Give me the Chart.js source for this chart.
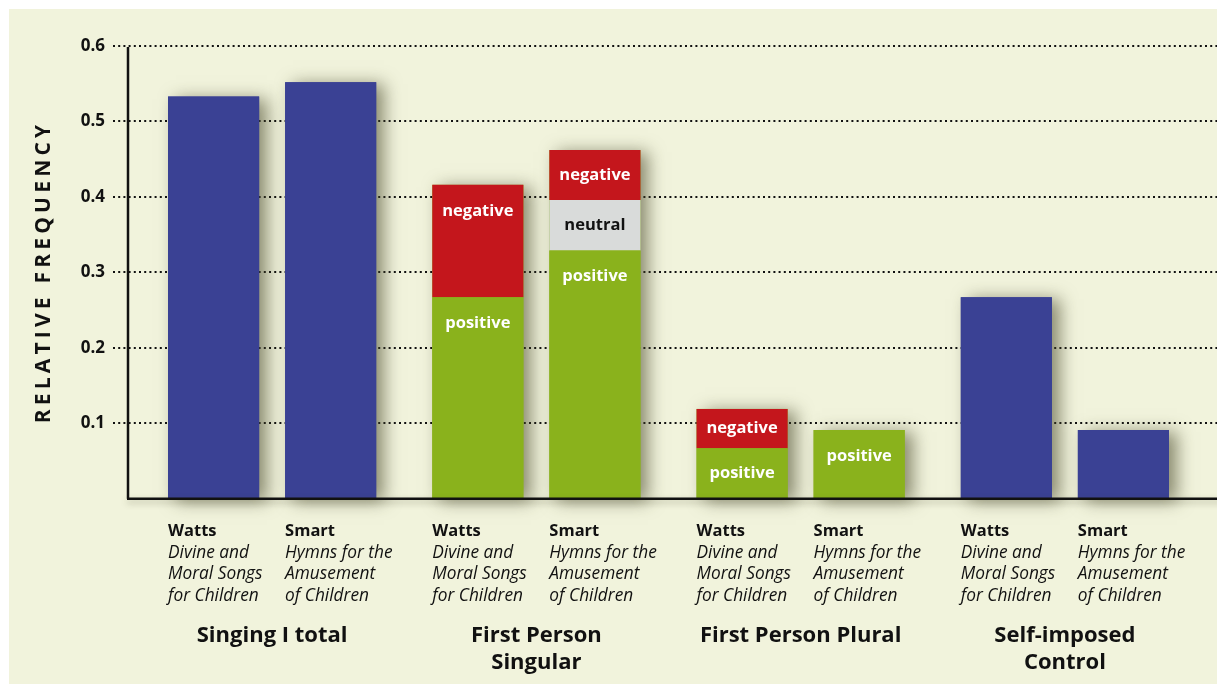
<!DOCTYPE html>
<html>
<head>
<meta charset="utf-8">
<script src="https://cdn.jsdelivr.net/npm/chart.js@4.4.1/dist/chart.umd.min.js"></script>
<style>
  html, body { margin: 0; padding: 0; background: #fff; }
</style>
</head>
<body>
<canvas id="myChart" width="1217" height="684"></canvas>
<script>
// categories and labels
const groups = ['Singing I total', ['First Person', 'Singular'], 'First Person Plural', ['Self-imposed', 'Control']];
const yTicks = [0.1, 0.2, 0.3, 0.4, 0.5, 0.6];
const authors = ['Watts', 'Smart'];
const bookTitles = [['Divine and', 'Moral Songs', 'for Children'], ['Hymns for the', 'Amusement', 'of Children']];

// values
const wattsTotal    = [0.533, null, null, 0.267];
const wattsPositive = [null, 0.267, 0.067, null];
const wattsNeutral  = [null, null, null, null];
const wattsNegative = [null, 0.149, 0.052, null];
const smartTotal    = [0.552, null, null, 0.091];
const smartPositive = [null, 0.329, 0.091, null];
const smartNeutral  = [null, 0.067, null, null];
const smartNegative = [null, 0.066, null, null];

const FONT = '"Open Sans", "Noto Sans", sans-serif';
const colors = { total: '#3a4194', positive: '#8ab21c', neutral: '#d9dbda', negative: '#c4161c' };

function ds(label, data, stack, kind) {
  return { label: label, data: data, stack: stack, kind: kind, backgroundColor: colors[kind], borderWidth: 0 };
}

const datasets = [
  ds('total', wattsTotal, 'watts', 'total'),
  ds('positive', wattsPositive, 'watts', 'positive'),
  ds('neutral', wattsNeutral, 'watts', 'neutral'),
  ds('negative', wattsNegative, 'watts', 'negative'),
  ds('total', smartTotal, 'smart', 'total'),
  ds('positive', smartPositive, 'smart', 'positive'),
  ds('neutral', smartNeutral, 'smart', 'neutral'),
  ds('negative', smartNegative, 'smart', 'negative')
];
const stacks = ['watts', 'smart'];

// collect the full rectangle of each stacked bar
function stackRects(chart) {
  const rects = [];
  stacks.forEach(function (st) {
    groups.forEach(function (g, i) {
      let r = null;
      chart.data.datasets.forEach(function (d, di) {
        if (d.stack !== st || d.data[i] == null || d.data[i] === 0) return;
        const el = chart.getDatasetMeta(di).data[i];
        const top = Math.min(el.y, el.base), bot = Math.max(el.y, el.base);
        if (!r) r = { x: el.x - el.width / 2, w: el.width, top: top, bot: bot, color: d.backgroundColor };
        else { r.top = Math.min(r.top, top); r.bot = Math.max(r.bot, bot); }
      });
      if (r) rects.push(r);
    });
  });
  return rects;
}

const paper = {
  id: 'paper',
  beforeDraw(chart) {
    const ctx = chart.ctx, y = chart.scales.y, w = chart.width, h = chart.height;
    ctx.save();
    ctx.fillStyle = '#fff';
    ctx.fillRect(0, 0, w, h);
    ctx.fillStyle = '#f1f3dc';
    ctx.fillRect(9, 9, w - 9, h - 9);

    // dotted grid lines
    ctx.strokeStyle = '#111';
    ctx.lineWidth = 2;
    ctx.setLineDash([2, 3.2]);
    yTicks.forEach(function (v) {
      const py = Math.round(y.getPixelForValue(v));
      ctx.beginPath();
      ctx.moveTo(113, py);
      ctx.lineTo(w, py);
      ctx.stroke();
    });
    ctx.setLineDash([]);

    // axis title
    ctx.translate(44, 274);
    ctx.rotate(-Math.PI / 2);
    ctx.fillStyle = '#111';
    ctx.font = 'bold 21px ' + FONT;
    ctx.letterSpacing = '4.2px';
    ctx.textAlign = 'center';
    ctx.textBaseline = 'middle';
    ctx.fillText('RELATIVE FREQUENCY', 2, 0);
    ctx.restore();
  },
  beforeDatasetsDraw(chart) {
    const ctx = chart.ctx;
    ctx.save();
    ctx.shadowColor = 'rgba(70, 70, 40, 0.6)';
    ctx.shadowBlur = 16;
    ctx.shadowOffsetX = 8;
    ctx.shadowOffsetY = 2;
    stackRects(chart).forEach(function (r) {
      ctx.fillStyle = r.color;
      ctx.fillRect(r.x, r.top, r.w, r.bot - r.top);
    });
    ctx.restore();
  },
  afterDatasetsDraw(chart) {
    const ctx = chart.ctx, y = chart.scales.y, w = chart.width;
    const y0 = y.getPixelForValue(0), yTop = y.getPixelForValue(0.6);
    ctx.save();

    // axis lines
    ctx.strokeStyle = '#111';
    ctx.lineWidth = 2.5;
    ctx.shadowColor = 'rgba(70, 70, 40, 0.35)';
    ctx.shadowBlur = 6;
    ctx.shadowOffsetY = 3;
    ctx.beginPath();
    ctx.moveTo(127, y0);
    ctx.lineTo(w + 10, y0);
    ctx.stroke();
    ctx.shadowColor = 'transparent';
    ctx.beginPath();
    ctx.moveTo(128, yTop + 1);
    ctx.lineTo(128, y0);
    ctx.stroke();

    // segment labels
    ctx.font = 'bold 16.5px ' + FONT;
    ctx.textAlign = 'center';
    ctx.textBaseline = 'middle';
    chart.data.datasets.forEach(function (d, di) {
      if (d.kind === 'total') return;
      chart.getDatasetMeta(di).data.forEach(function (el, i) {
        if (d.data[i] == null || d.data[i] === 0) return;
        const top = Math.min(el.y, el.base), bot = Math.max(el.y, el.base);
        const ly = Math.min(top + 26, (top + bot) / 2);
        ctx.fillStyle = d.kind === 'neutral' ? '#111' : '#fff';
        ctx.fillText(d.label, el.x, ly);
      });
    });

    // book labels under each bar
    ctx.textAlign = 'left';
    ctx.fillStyle = '#111';
    stacks.forEach(function (st, si) {
      const di = chart.data.datasets.findIndex(function (d) { return d.stack === st; });
      chart.getDatasetMeta(di).data.forEach(function (el) {
        const left = el.x - el.width / 2;
        ctx.font = 'bold 16.5px ' + FONT;
        ctx.fillText(authors[si], left, y0 + 33);
        ctx.font = 'italic 17.3px ' + FONT;
        bookTitles[si].forEach(function (line, li) {
          ctx.fillText(line, left, y0 + 54.5 + li * 21.3);
        });
      });
    });
    ctx.restore();
  }
};

const ctx = document.getElementById('myChart').getContext('2d');
const chart = new Chart(ctx, {
  type: 'bar',
  data: { labels: groups, datasets: datasets },
  plugins: [paper],
  options: {
    responsive: false,
    animation: false,
    devicePixelRatio: 1,
    categoryPercentage: 0.886,
    barPercentage: 0.778,
    layout: { padding: { left: 9, right: 20, top: 46, bottom: 0 } },
    plugins: { legend: { display: false }, tooltip: { enabled: false } },
    scales: {
      x: {
        stacked: true,
        offset: true,
        grid: { display: false, drawTicks: false },
        border: { display: false },
        ticks: { color: '#111', font: { family: FONT, size: 22, weight: 'bold' }, padding: 124, maxRotation: 0, autoSkip: false },
        afterFit: function (s) { s.height = 185.3; s.paddingLeft = 0; s.paddingRight = 0; }
      },
      y: {
        stacked: true,
        min: 0,
        max: 0.6,
        afterBuildTicks: function (s) { s.ticks = yTicks.map(function (v) { return { value: v }; }); },
        grid: { display: false, drawTicks: false },
        border: { display: false },
        ticks: { color: '#111', font: { family: FONT, size: 17, weight: 'bold' }, padding: 35, callback: function (v) { return v.toFixed(1); } },
        afterFit: function (s) { s.width = 131; s.paddingTop = 0; s.paddingBottom = 0; }
      }
    }
  }
});
</script>
</body>
</html>
